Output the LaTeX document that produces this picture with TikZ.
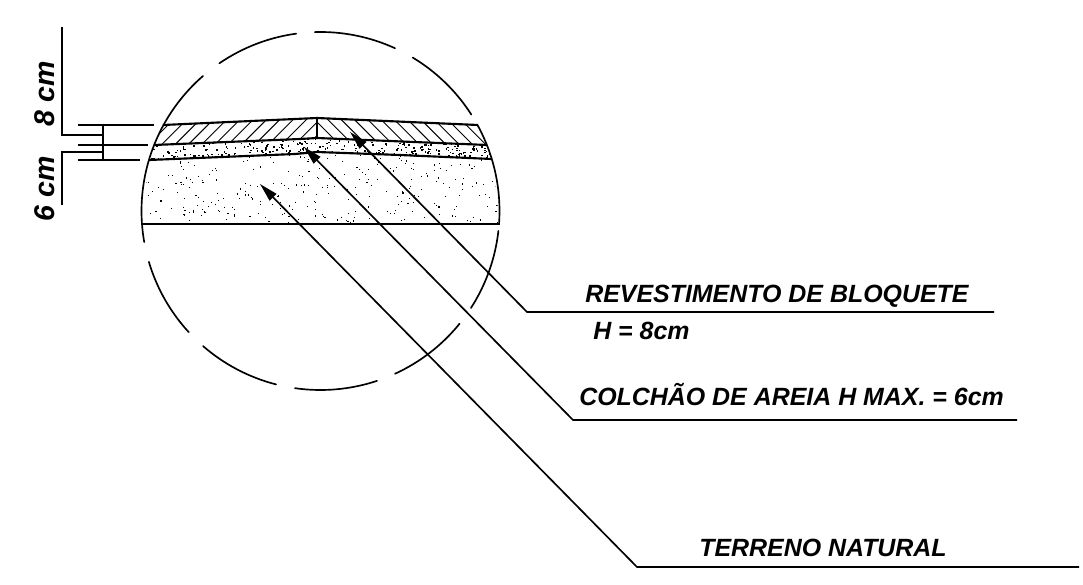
\documentclass[tikz,border=0pt]{standalone}
\usepackage{fontspec}
\setmainfont{Liberation Sans}
\usetikzlibrary{arrows.meta}
\tikzset{
  circ/.style={line width=1.25pt,line cap=round},
  heavy/.style={line width=1.6pt,line join=round},
  hatchline/.style={line width=0.7pt},
  dimline/.style={line width=1.25pt},
  leader/.style={line width=1.25pt,line join=miter,-{Triangle[length=14pt,width=7pt]}},
  lbl/.style={anchor=base west,inner sep=0pt,font=\fontsize{18.7pt}{20pt}\selectfont\bfseries\itshape},
  dimlbl/.style={anchor=base,rotate=90,inner sep=0pt,font=\fontsize{21.4pt}{23pt}\selectfont\bfseries\itshape}
}
\begin{document}
\begin{tikzpicture}[x=0.75pt,y=-0.75pt]
\useasboundingbox (0,0) rectangle (1083,585);
% dashed detail circle
\foreach \a/\b in {124.4/97.8, 91.8/65.4, 59/32.6, 28.6/-3.8, -6.4/-32.8, -39/-65.4, -71.6/-98.2, -104.4/-131, -137.4/-163.5, -170/-229}{
  \draw[circ] plot[domain=\a:\b,samples=40] ({320.5+179*cos(\x)},{211-179*sin(\x)});
}
% hatching, left
\begin{scope}
  \clip (163,125) -- (317,118) -- (317,138) -- (154,145) -- cycle;
  \foreach \i in {0,...,14}{
    \draw[hatchline] ({143+13.3*\i},150) -- ({183+13.3*\i},110);
  }
\end{scope}
% hatching, right
\begin{scope}
  \clip (317,118) -- (478,125) -- (487,145) -- (317,138) -- cycle;
  \foreach \i in {0,...,14}{
    \draw[hatchline] ({305+13.3*\i},110) -- ({345+13.3*\i},150);
  }
\end{scope}
% sand stipple
\pgfmathsetseed{4711}
\begin{scope}
  \clip (154,145) -- (317,138) -- (487,145) -- (492,159) -- (317,152) -- (149,160) -- cycle;
  \foreach \i in {1,...,420}{
    \pgfmathsetmacro\xx{150+342*rnd}
    \pgfmathsetmacro\yy{138+22*rnd}
    \fill (\xx,\yy) rectangle ++(1.5,1.5);
  }
\end{scope}
\begin{scope}
  \clip (149,160) -- (317,152) -- (492,159) -- (500,224) -- (142,224) -- cycle;
  \foreach \i in {1,...,300}{
    \pgfmathsetmacro\xx{142+358*rnd}
    \pgfmathsetmacro\yy{152+72*rnd}
    \fill (\xx,\yy) rectangle ++(1.1,1.1);
  }
\end{scope}
% layer lines
\draw[heavy] (163,125) -- (317,118) -- (478,125);
\draw[heavy] (154,145) -- (300,139) -- (317,138) -- (487,145);
\draw[heavy] (149,160) -- (295,154) -- (317,152) -- (400,155) -- (492,159);
\draw[heavy] (142,224) -- (500,224);
\draw[heavy] (317,118) -- (317,138);
% left dimensions
\coordinate (t1) at (78,125); \coordinate (t1e) at (154,125);
\coordinate (t2) at (78,145); \coordinate (t2e) at (148,145);
\coordinate (t3) at (78,160); \coordinate (t3e) at (140,160);
\coordinate (v1) at (103,125); \coordinate (v2) at (103,160);
\coordinate (u1) at (62,27); \coordinate (u2) at (62,135); \coordinate (u3) at (103,135);
\coordinate (d1) at (62,205); \coordinate (d2) at (62,152); \coordinate (d3) at (103,152);
\draw[dimline] (t1) -- (t1e);
\draw[dimline] (t2) -- (t2e);
\draw[dimline] (t3) -- (t3e);
\draw[dimline] (v1) -- (v2);
\draw[dimline] (u1) -- (u2) -- (u3);
\draw[dimline] (d1) -- (d2) -- (d3);
\node[dimlbl] (lab8) at (55,94) {8 cm};
\node[dimlbl] (lab6) at (55,189) {6 cm};
% leaders
\coordinate (e1) at (994,312); \coordinate (k1) at (527,312); \coordinate (p1) at (350,132);
\coordinate (e2) at (1017,420); \coordinate (k2) at (573,420); \coordinate (p2) at (304,147);
\coordinate (e3) at (1079,567); \coordinate (k3) at (637,567); \coordinate (p3) at (260,184);
\draw[leader] (e1) -- (k1) -- (p1);
\draw[leader] (e2) -- (k2) -- (p2);
\draw[leader] (e3) -- (k3) -- (p3);
% labels
\node[lbl] (rev) at (585,302) {REVESTIMENTO DE BLOQUETE};
\node[lbl] (h8) at (593,339) {H = 8cm};
\node[lbl] (col) at (579,405) {COLCHÃO DE AREIA H MAX. = 6cm};
\node[lbl] (ter) at (699,556) {TERRENO NATURAL};
\end{tikzpicture}
\end{document}
